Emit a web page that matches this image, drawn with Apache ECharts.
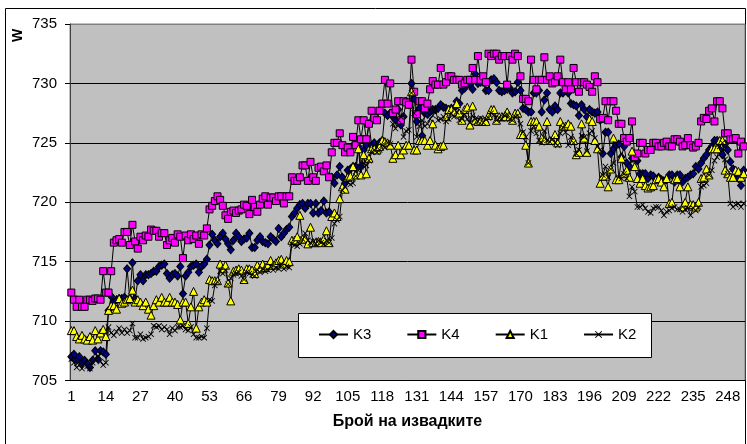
<!DOCTYPE html>
<html>
<head>
<meta charset="utf-8">
<script src="https://cdn.jsdelivr.net/npm/echarts@6/dist/echarts.min.js"></script>
<style>
html, body { margin: 0; padding: 0; background: #fff; }
#main { width: 747px; height: 444px; }
</style>
</head>
<body>
<div id="main"></div>
<script>
// номера на извадките 1..254
var categories = Array.from({length: 254}, function (_, i) { return String(i + 1); });

var yTicks = [705, 710, 715, 720, 725, 730, 735];

var k3 = [
  707.0, 707.2, 706.7, 707.0, 706.5, 706.7, 706.4, 706.1, 706.7, 707.5,
  706.8, 707.5, 707.4, 707.2, 710.9, 712.1, 711.6, 711.8, 711.9, 711.9,
  712.0, 714.4, 711.9, 714.9, 711.9, 713.4, 713.9, 713.4, 713.9, 713.9,
  714.0, 714.2, 714.2, 714.6, 714.7, 714.8, 714.0, 713.6, 713.9, 714.0,
  713.8, 714.6, 712.3, 713.8, 714.1, 714.6, 714.7, 714.8, 714.1, 714.6,
  714.8, 715.2, 716.4, 717.3, 716.8, 716.5, 717.1, 717.4, 716.9, 716.5,
  716.0, 716.8, 717.4, 717.1, 716.7, 716.9, 717.0, 717.4, 716.2, 716.2,
  716.8, 717.1, 716.7, 716.6, 716.5, 717.1, 716.9, 716.7, 717.8, 717.1,
  717.4, 717.7, 717.9, 718.8, 719.1, 719.5, 719.8, 719.9, 719.5, 719.9,
  719.9, 719.1, 719.9, 719.1, 719.3, 720.1, 719.1, 719.2, 722.1, 721.6,
  722.3, 723.0, 722.1, 721.6, 722.7, 722.8, 723.0, 723.0, 724.7, 723.0,
  724.4, 724.8, 726.6, 724.8, 725.0, 724.5, 725.0, 725.2, 727.5, 727.3,
  727.5, 727.2, 726.9, 727.8, 726.5, 727.2, 728.5, 728.2, 730.0, 728.7,
  726.8, 727.9, 725.6, 727.5, 727.4, 727.6, 727.8, 727.8, 727.9, 728.2,
  728.0, 727.9, 727.8, 727.9, 727.9, 728.5, 728.3, 729.4, 729.6, 729.9,
  729.9, 729.5, 730.8, 730.0, 730.1, 730.1, 729.4, 729.4, 730.3, 730.4,
  730.1, 729.4, 729.3, 729.4, 729.5, 729.6, 729.2, 729.3, 730.1, 729.4,
  727.9, 727.8, 727.6, 727.6, 729.2, 729.2, 729.4, 727.6, 728.6, 729.2,
  727.8, 727.6, 728.1, 727.8, 729.2, 729.2, 729.4, 729.2, 728.3, 728.2,
  728.1, 727.3, 728.2, 727.8, 727.2, 727.8, 727.6, 727.5, 727.6, 726.9,
  724.1, 725.9, 725.9, 724.1, 724.5, 724.8, 724.9, 723.8, 724.7, 723.3,
  723.0, 723.7, 723.8, 723.5, 722.4, 722.4, 722.4, 722.0, 722.3, 722.2,
  721.9, 722.1, 721.9, 721.8, 721.9, 722.3, 722.3, 721.7, 722.3, 722.3,
  721.7, 722.0, 722.1, 722.3, 722.4, 723.0, 722.8, 723.3, 723.7, 724.0,
  724.4, 724.7, 725.2, 725.2, 724.4, 724.0, 724.9, 724.4, 723.4, 722.8,
  722.4, 722.0, 721.4, 722.7
];

var k4 = [
  712.4, 711.8, 711.2, 711.8, 711.2, 711.2, 711.8, 711.8, 711.7, 711.9,
  711.9, 711.8, 714.2, 712.4, 712.4, 714.2, 716.6, 716.8, 716.9, 716.6,
  717.5, 717.5, 716.4, 718.1, 716.7, 716.1, 717.1, 716.8, 717.2, 717.1,
  717.7, 717.6, 717.6, 717.1, 717.4, 717.4, 716.4, 716.8, 717.0, 716.6,
  717.3, 717.1, 715.3, 717.2, 716.8, 717.3, 716.9, 717.2, 716.5, 717.3,
  717.2, 717.8, 719.4, 719.7, 720.1, 720.5, 720.2, 719.7, 718.9, 718.6,
  719.2, 719.3, 719.1, 719.3, 719.4, 719.8, 719.7, 719.0, 720.2, 719.6,
  719.2, 719.8, 720.3, 720.5, 719.8, 720.4, 720.4, 720.1, 720.5, 720.5,
  719.9, 720.5, 720.5, 722.1, 721.8, 721.8, 722.1, 723.1, 723.1, 721.8,
  723.4, 722.1, 721.8, 722.9, 723.0, 722.6, 723.1, 722.1, 724.2, 725.0,
  725.0, 725.8, 724.8, 724.2, 724.6, 724.2, 725.5, 724.8, 726.9, 725.3,
  726.9, 725.3, 726.6, 727.7, 727.1, 726.9, 727.7, 728.3, 730.3, 728.3,
  730.0, 727.5, 727.8, 728.5, 726.9, 728.5, 728.4, 728.2, 732.0, 729.3,
  727.4, 728.5, 728.5, 727.9, 728.3, 729.5, 730.2, 729.9, 729.9, 731.3,
  729.9, 730.1, 730.6, 730.6, 730.3, 730.3, 730.3, 729.9, 730.0, 730.3,
  730.3, 731.3, 730.3, 732.3, 730.3, 730.6, 730.1, 732.5, 732.3, 732.5,
  732.5, 732.0, 732.3, 732.3, 729.9, 732.3, 732.0, 732.5, 732.3, 730.6,
  728.7, 728.7, 728.5, 732.0, 730.3, 729.5, 730.3, 730.3, 732.2, 730.3,
  730.6, 730.0, 730.1, 730.6, 732.0, 730.1, 729.5, 730.1, 729.5, 731.3,
  730.1, 729.3, 730.1, 730.1, 729.9, 729.7, 729.3, 730.6, 730.1, 727.0,
  727.1, 728.5, 726.9, 728.5, 728.5, 727.7, 726.6, 726.6, 725.4, 725.1,
  725.4, 726.8, 723.8, 724.1, 725.0, 725.0, 724.1, 724.4, 724.4, 725.0,
  725.0, 724.7, 724.7, 725.0, 725.1, 724.7, 724.7, 725.3, 725.3, 725.1,
  724.7, 724.8, 725.4, 724.8, 724.6, 724.7, 725.0, 726.8, 727.1, 727.0,
  727.7, 727.9, 726.8, 728.5, 728.5, 727.9, 725.8, 725.8, 725.3, 725.3,
  725.4, 724.1, 725.1, 724.7
];

var k1 = [
  709.2, 709.2, 708.7, 708.5, 708.8, 708.5, 708.4, 708.7, 708.4, 709.2,
  708.5, 709.0, 709.3, 708.7, 710.9, 711.3, 711.3, 711.0, 711.9, 711.5,
  711.6, 711.8, 711.9, 712.6, 711.6, 711.8, 711.6, 711.3, 711.6, 711.0,
  710.5, 711.3, 711.8, 711.6, 712.0, 711.6, 711.6, 712.0, 711.6, 711.6,
  711.4, 710.1, 711.6, 711.6, 709.8, 711.2, 712.5, 709.4, 711.2, 711.6,
  711.8, 711.6, 713.5, 713.4, 713.4, 713.4, 714.8, 714.4, 714.7, 713.2,
  711.7, 714.2, 714.3, 714.4, 714.3, 713.5, 714.4, 714.4, 714.3, 714.0,
  714.7, 714.4, 714.8, 714.5, 714.7, 715.1, 714.7, 714.9, 715.1, 715.2,
  714.8, 715.1, 715.0, 716.8, 716.8, 717.1, 718.9, 716.9, 716.9, 716.5,
  717.9, 716.6, 716.6, 716.7, 716.6, 716.9, 717.6, 716.6, 718.8, 719.1,
  718.8, 720.3, 721.3, 721.1, 722.1, 722.2, 723.0, 722.3, 724.5, 722.3,
  724.0, 722.4, 723.7, 724.5, 724.5, 724.4, 724.7, 725.2, 725.1, 725.0,
  724.8, 723.7, 724.0, 724.8, 724.0, 724.4, 724.8, 724.8, 729.3, 724.4,
  724.4, 725.2, 725.2, 725.2, 724.8, 725.2, 726.6, 724.8, 724.5, 724.7,
  724.8, 727.2, 727.8, 727.8, 727.6, 728.3, 727.5, 726.9, 727.8, 728.0,
  726.5, 728.1, 726.9, 726.8, 726.9, 726.8, 726.8, 727.3, 727.8, 727.8,
  726.9, 727.2, 727.2, 727.2, 727.6, 727.2, 726.9, 727.5, 727.5, 725.7,
  725.7, 724.8, 723.3, 726.8, 726.8, 726.8, 726.4, 725.4, 725.2, 726.8,
  725.2, 725.2, 725.7, 725.0, 726.8, 726.4, 726.4, 726.6, 726.4, 725.2,
  724.0, 724.2, 726.6, 725.4, 724.2, 727.0, 726.8, 725.2, 724.5, 721.6,
  722.2, 722.2, 721.3, 722.8, 725.4, 721.9, 721.9, 723.7, 722.4, 722.7,
  722.1, 724.3, 723.0, 722.0, 721.6, 722.0, 721.4, 721.2, 721.3, 721.4,
  721.9, 722.0, 721.7, 721.3, 722.0, 719.9, 720.0, 721.9, 722.0, 721.3,
  719.6, 720.0, 721.3, 719.8, 719.8, 719.6, 720.0, 722.0, 722.1, 722.8,
  722.3, 724.5, 724.5, 724.5, 725.2, 725.2, 722.7, 722.4, 722.1, 722.1,
  722.7, 722.6, 722.1, 722.4
];

var k2 = [
  706.8, 706.5, 706.1, 706.3, 706.0, 706.4, 706.2, 706.0, 706.5, 706.8,
  707.0, 706.6, 706.3, 706.5, 709.5, 709.0, 708.8, 709.1, 709.4, 709.0,
  709.3, 709.0, 709.2, 709.8, 708.6, 708.6, 708.9, 708.5, 708.6, 708.7,
  708.9, 709.6, 709.5, 709.6, 709.3, 709.5, 709.3, 708.9, 709.4, 709.2,
  709.5, 709.5, 709.6, 709.3, 709.2, 709.5, 708.9, 708.6, 708.6, 708.7,
  708.6, 709.4, 711.8, 711.7, 713.0, 713.3, 714.2, 714.0, 714.3, 713.1,
  713.6, 713.9, 714.0, 714.1, 713.8, 713.5, 714.1, 714.0, 713.9, 713.8,
  714.3, 714.1, 714.4, 714.2, 714.3, 714.6, 714.3, 714.5, 714.4, 714.8,
  714.4, 714.6, 714.5, 716.5, 716.4, 716.3, 716.5, 716.9, 717.4, 716.8,
  716.6, 716.7, 716.5, 716.8, 716.6, 716.5, 716.8, 716.6, 717.0, 718.2,
  718.5, 718.8, 721.0, 721.3, 721.7, 721.5, 721.6, 722.2, 722.7, 723.0,
  723.3, 723.1, 723.5, 724.2, 724.4, 724.2, 724.4, 724.8, 724.6, 725.0,
  724.9, 726.6, 726.2, 726.9, 727.2, 725.5, 726.0, 726.1, 729.2, 727.5,
  725.5, 726.4, 726.9, 726.4, 726.6, 727.0, 727.3, 727.8, 726.9, 727.0,
  727.2, 726.8, 727.0, 727.5, 727.2, 727.6, 726.9, 727.0, 727.4, 727.0,
  726.7, 727.3, 727.0, 726.8, 727.1, 726.7, 727.0, 727.1, 727.5, 727.3,
  726.9, 727.1, 727.0, 727.3, 727.4, 727.0, 726.9, 727.2, 727.3, 726.6,
  725.9, 725.5, 723.3, 726.0, 726.4, 725.8, 725.2, 725.0, 726.0, 725.2,
  725.1, 725.3, 725.0, 724.8, 725.8, 726.3, 725.9, 724.8, 725.5, 725.0,
  724.1, 724.4, 725.6, 725.5, 724.3, 725.8, 726.0, 725.4, 724.7, 724.4,
  722.3, 723.0, 722.1, 722.8, 723.3, 724.9, 722.1, 722.0, 722.4, 722.0,
  720.5, 721.3, 720.9, 719.6, 719.6, 719.8, 719.5, 719.2, 719.1, 719.5,
  719.6, 719.6, 719.3, 718.9, 719.2, 719.3, 719.5, 719.6, 719.4, 719.4,
  719.2, 719.4, 719.5, 718.9, 719.5, 719.3, 719.6, 721.3, 721.4, 721.6,
  722.3, 722.7, 723.5, 723.8, 724.7, 725.0, 723.6, 722.4, 719.9, 719.6,
  719.8, 719.9, 719.6, 719.9
];

var font = '"Liberation Sans", Arial, sans-serif';
var xMark = 'path://M0,1 L1,0 L5,4 L9,0 L10,1 L6,5 L10,9 L9,10 L5,6 L1,10 L0,9 L4,5 Z';

function lineSeries(name, data, symbol, size, fill, border) {
  return {
    name: name,
    type: 'line',
    data: data,
    symbol: symbol,
    symbolSize: size,
    showAllSymbol: true,
    lineStyle: { color: '#000', width: 1 },
    itemStyle: { color: fill, borderColor: border, borderWidth: border ? 1 : 0 },
    emphasis: { disabled: true }
  };
}

var chart = echarts.init(document.getElementById('main'), null, { renderer: 'canvas' });
chart.setOption({
  animation: false,
  backgroundColor: '#fff',
  textStyle: { fontFamily: font },
  grid: {
    left: 70, right: 2, top: 24, bottom: 63.5,
    show: true, backgroundColor: '#C0C0C0', borderColor: '#808080', borderWidth: 1
  },
  graphic: [
    { type: 'rect', z: -10, shape: { x: 5.5, y: 8.5, width: 740, height: 450 },
      style: { fill: 'none', stroke: '#000', lineWidth: 1 } },
    { type: 'text', x: 11, y: 42, rotation: Math.PI / 2, z: 10,
      style: { text: 'W', font: 'bold 14px ' + font, fill: '#000' } },
    { type: 'rect', z: 50, shape: { x: 298.5, y: 313.5, width: 353, height: 44 },
      style: { fill: '#fff', stroke: '#000', lineWidth: 1 } }
  ],
  legend: {
    z: 60,
    left: 318, top: 327,
    padding: 0,
    itemWidth: 29, itemHeight: 9, itemGap: 35,
    textStyle: { fontSize: 15, color: '#000', fontFamily: font },
    data: ['K3', 'K4', 'K1', 'K2']
  },
  xAxis: {
    type: 'category',
    data: categories,
    boundaryGap: true,
    name: 'Брой на извадките',
    nameLocation: 'middle',
    nameGap: 33,
    nameTextStyle: { fontSize: 16, fontWeight: 'bold', color: '#000', fontFamily: font },
    axisLine: { lineStyle: { color: '#000', width: 1 } },
    axisTick: { interval: 0, length: 5, lineStyle: { color: '#000' } },
    axisLabel: { interval: 12, margin: 9, fontSize: 15, color: '#000', fontFamily: font },
    splitLine: { show: false }
  },
  yAxis: {
    type: 'value',
    min: yTicks[0], max: yTicks[yTicks.length - 1], interval: 5,
    axisLine: { show: true, lineStyle: { color: '#404040', width: 1 } },
    axisTick: { show: true, length: 5, lineStyle: { color: '#000' } },
    axisLabel: { margin: 13, fontSize: 15, color: '#000', fontFamily: font },
    splitLine: { show: true, lineStyle: { color: ['#000', '#000', '#000', '#000', '#000', '#000', '#808080'], width: 1 } }
  },
  series: [
    lineSeries('K3', k3, 'diamond', [7, 8], '#000080', '#000'),
    lineSeries('K4', k4, 'rect', 7, '#FF00FF', '#000'),
    lineSeries('K1', k1, 'triangle', 8, '#FFFF00', '#000'),
    lineSeries('K2', k2, xMark, 6, '#000', null)
  ]
});
</script>
</body>
</html>
